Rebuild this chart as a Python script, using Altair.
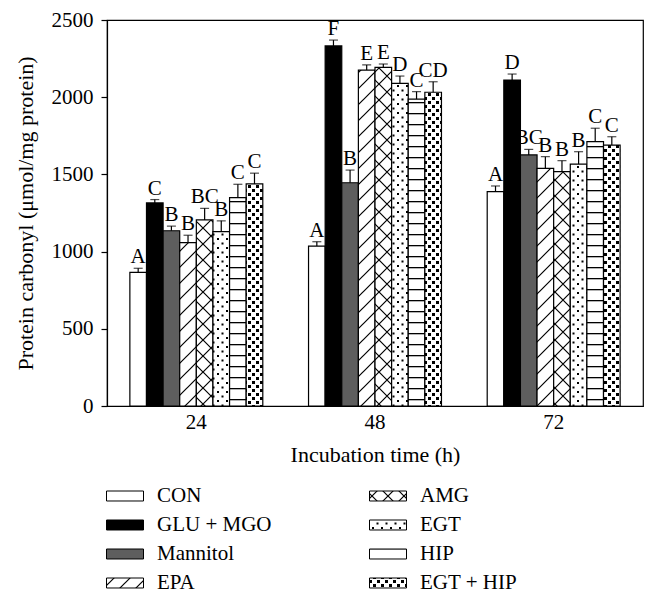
import altair as alt
import pandas as pd
import jinja2

times = ["24", "48", "72"]
treatments = ["CON", "GLU + MGO", "Mannitol", "EPA", "AMG", "EGT", "HIP", "EGT + HIP"]
fills = ["white", "black", "#5e5e5e", "url(#pEPA)", "url(#pAMG)", "url(#pEGT)", "url(#pHIP)", "url(#pEGTHIP)"]

means_24 = [865, 1315, 1135, 1058, 1205, 1129, 1349, 1438]
errs_24 = [27, 22, 30, 48, 75, 70, 87, 70]
letters_24 = ["A", "C", "B", "B", "BC", "B", "C", "C"]

means_48 = [1036, 2332, 1446, 2176, 2193, 2090, 1988, 2032]
errs_48 = [28, 38, 82, 33, 22, 47, 48, 68]
letters_48 = ["A", "F", "B", "E", "E", "D", "C", "CD"]

means_72 = [1388, 2111, 1626, 1539, 1518, 1567, 1712, 1690]
errs_72 = [37, 39, 36, 76, 71, 80, 87, 54]
letters_72 = ["A", "D", "BC", "B", "B", "B", "C", "C"]

y_ticks = [0, 500, 1000, 1500, 2000, 2500]

rows = []
for t, ms, es, ls in [("24", means_24, errs_24, letters_24),
                      ("48", means_48, errs_48, letters_48),
                      ("72", means_72, errs_72, letters_72)]:
    for tr, m, e, l in zip(treatments, ms, es, ls):
        rows.append({"time": t, "treatment": tr, "mean": m, "top": m + e, "letter": l})
df = pd.DataFrame(rows)

FONT = "Liberation Serif"

base = alt.Chart(df).encode(
    x=alt.X("time:N", sort=times,
            scale=alt.Scale(paddingInner=0.256, paddingOuter=0.128),
            axis=alt.Axis(title="Incubation time (h)", labelAngle=0, ticks=False,
                          labelPadding=5, titlePadding=12)),
    xOffset=alt.XOffset("treatment:N", sort=treatments,
                        scale=alt.Scale(paddingInner=0, paddingOuter=0)),
)

yscale = alt.Scale(domain=[0, 2500], nice=False)

bars = base.mark_bar(stroke="black", strokeWidth=1.2).encode(
    y=alt.Y("mean:Q", scale=yscale,
            axis=alt.Axis(title="Protein carbonyl (μmol/mg protein)", values=y_ticks,
                          format="d", tickSize=6, labelPadding=8, titlePadding=14)),
    fill=alt.Fill("treatment:N",
                  scale=alt.Scale(domain=treatments, range=fills),
                  legend=alt.Legend(title=None, orient="none", legendX=-1, legendY=457,
                                    columns=2, columnPadding=95, rowPadding=-1,
                                    symbolType="M-1,-0.27L1,-0.27L1,0.27L-1,0.27Z",
                                    symbolSize=1369, symbolStrokeColor="black",
                                    symbolStrokeWidth=1, symbolOpacity=1,
                                    labelFont=FONT, labelFontSize=21, labelColor="black",
                                    labelOffset=13, labelLimit=300)),
)

err = base.mark_rule(color="black", strokeWidth=1.2).encode(
    y=alt.Y("mean:Q", scale=yscale), y2="top:Q")
cap = base.mark_tick(color="black", thickness=1.2, size=9).encode(
    y=alt.Y("top:Q", scale=yscale))
txt = base.mark_text(baseline="bottom", dy=-1, font=FONT, fontSize=21, color="black").encode(
    y=alt.Y("top:Q", scale=yscale), text="letter:N")

chart = alt.layer(bars, err, cap, txt).properties(
    width=536, height=386,
    padding={"left": 6, "top": 1, "right": 5, "bottom": 5},
).configure_view(stroke="black", strokeWidth=1.2).configure_axis(
    labelFont=FONT, titleFont=FONT, labelFontSize=21, titleFontSize=22,
    labelColor="black", titleColor="black", titleFontWeight="normal",
    domainColor="black", tickColor="black", grid=False, domainWidth=1.2, tickWidth=1.2,
)

PATTERNS = """
<svg width="0" height="0" style="position:absolute;left:0;top:0" aria-hidden="true">
<defs>
<pattern id="pEPA" patternUnits="userSpaceOnUse" width="16" height="16">
<rect width="16" height="16" fill="white"/>
<path d="M-4,4 L4,-4 M0,16 L16,0 M12,20 L20,12" stroke="black" stroke-width="1.2"/>
</pattern>
<pattern id="pAMG" patternUnits="userSpaceOnUse" width="16" height="16">
<rect width="16" height="16" fill="white"/>
<path d="M0,0 L16,16 M16,0 L0,16" stroke="black" stroke-width="1.2"/>
</pattern>
<pattern id="pEGT" patternUnits="userSpaceOnUse" width="9" height="9">
<rect width="9" height="9" fill="white"/>
<rect x="2" y="2" width="2" height="2" fill="black"/>
<rect x="6.5" y="6.5" width="2" height="2" fill="black"/>
</pattern>
<pattern id="pHIP" patternUnits="userSpaceOnUse" width="10" height="11">
<rect width="10" height="11" fill="white"/>
<rect x="0" y="5" width="10" height="1.3" fill="black"/>
</pattern>
<pattern id="pEGTHIP" patternUnits="userSpaceOnUse" width="8" height="8">
<rect width="8" height="8" fill="white"/>
<rect x="1" y="1" width="3" height="3" fill="black"/>
<rect x="5" y="5" width="3" height="3" fill="black"/>
</pattern>
</defs>
</svg>
"""

TEMPLATE = jinja2.Template("""<!DOCTYPE html>
<html>
<head>
  <meta charset="utf-8">
  <style>
    #{{ output_div }}.vega-embed { width: 100%; display: flex; }
  </style>
  <script type="text/javascript" src="{{ base_url }}/vega@{{ vega_version }}"></script>
  <script type="text/javascript" src="{{ base_url }}/vega-lite@{{ vegalite_version }}"></script>
  <script type="text/javascript" src="{{ base_url }}/vega-embed@{{ vegaembed_version }}"></script>
</head>
<body>
""" + PATTERNS + """
  <div id="{{ output_div }}"></div>
  <script>
    (function(vegaEmbed) {
      var spec = {{ spec }};
      var embedOpt = {{ embed_options }};
      function showError(el, error){
        el.innerHTML = ('<div style="color:red;"><p>JavaScript Error: ' + error.message + '</p></div>');
        throw error;
      }
      const el = document.getElementById('{{ output_div }}');
      vegaEmbed("#{{ output_div }}", spec, embedOpt).catch(error => showError(el, error));
    })(vegaEmbed);
  </script>
</body>
</html>
""")

chart.save("out.html", embed_options={"renderer": "svg", "actions": False}, template=TEMPLATE)
